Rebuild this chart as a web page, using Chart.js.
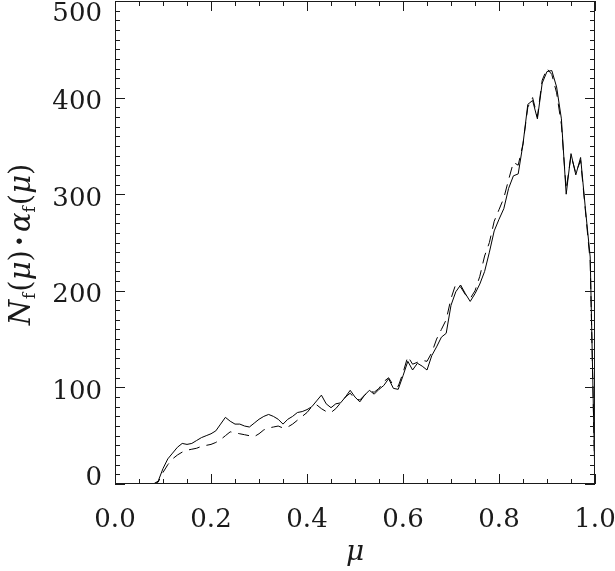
<!DOCTYPE html>
<html>
<head>
<meta charset="utf-8">
<script src="https://cdn.jsdelivr.net/npm/chart.js@4"></script>
<style>
html,body{margin:0;padding:0;background:#fff;}
#wrap{width:615px;height:571px;position:relative;}
</style>
</head>
<body>
<div id="wrap"><canvas id="c" width="615" height="571"></canvas></div>
<script>
// ---- data ----
const mu = [0.00,0.01,0.02,0.03,0.04,0.05,0.06,0.07,0.08,0.09,
  0.10,0.11,0.12,0.13,0.14,0.15,0.16,0.17,0.18,0.19,
  0.20,0.21,0.22,0.23,0.24,0.25,0.26,0.27,0.28,0.29,
  0.30,0.31,0.32,0.33,0.34,0.35,0.36,0.37,0.38,0.39,
  0.40,0.41,0.42,0.43,0.44,0.45,0.46,0.47,0.48,0.49,
  0.50,0.51,0.52,0.53,0.54,0.55,0.56,0.57,0.58,0.59,
  0.60,0.61,0.62,0.63,0.64,0.65,0.66,0.67,0.68,0.69,
  0.70,0.71,0.72,0.73,0.74,0.75,0.76,0.77,0.78,0.79,
  0.80,0.81,0.82,0.83,0.84,0.85,0.86,0.87,0.88,0.89,
  0.90,0.91,0.92,0.93,0.94,0.95,0.96,0.97,0.98,0.99,1.00];
const solidValues = [0,0,0,0,0,0,0,0,0,3,
  16,26,32,38,42,41,42,45,48,50,
  52,55,62,69,65,62,62,60,59,63,
  67,70,72,70,67,62,67,70,74,75,
  77,80,86,92,83,79,83,84,90,97,
  90,85,92,97,93,98,102,109,99,98,
  112,127,118,125,122,118,133,142,152,156,
  185,199,206,197,189,197,207,220,240,262,
  274,285,306,319,321,352,393,397,378,415,
  427,428,411,378,300,342,320,338,285,235,0];
const dashedValues = [0,0,0,0,0,0,0,0,0,2,
  12,20,26,30,33,35,36,37,39,40,
  41,43,46,50,54,53,52,51,50,49,
  52,56,58,59,60,58,59,62,66,70,
  74,80,82,78,75,74,78,84,90,94,
  88,87,92,96,95,99,106,110,102,101,
  115,132,124,126,128,127,136,150,160,170,
  192,207,204,196,192,200,215,236,250,272,
  284,296,315,333,330,352,390,400,380,418,
  430,424,405,372,305,340,322,335,283,230,0];
const xTickValues = [0, 0.2, 0.4, 0.6, 0.8, 1.0];
const xTickLabels = ['0.0', '0.2', '0.4', '0.6', '0.8', '1.0'];
const yTickValues = [0, 100, 200, 300, 400, 500];
const yTickLabels = ['0', '100', '200', '300', '400', '500'];
const xTitle = 'μ';

// ---- styling ----
const INK = '#1a1a1a';
const LABEL_FONT = '26px "DejaVu Serif"';

function drawRich(ctx, segs, cx, baselineY) {
  let total = 0;
  segs.forEach(s => { ctx.font = s.f; s.w = ctx.measureText(s.t).width; total += s.w + (s.gap || 0); });
  let x = cx - total / 2;
  segs.forEach(s => {
    ctx.font = s.f;
    ctx.fillText(s.t, x, baselineY + (s.dy || 0));
    x += s.w + (s.gap || 0);
  });
}

const framePlugin = {
  id: 'frame',
  afterDatasetsDraw(chart) {
    const ctx = chart.ctx;
    const a = chart.chartArea;
    const xs = chart.scales.x, ys = chart.scales.y;
    ctx.save();
    ctx.strokeStyle = INK;
    ctx.lineWidth = 1;
    // frame
    ctx.strokeRect(Math.round(a.left) + 0.5, Math.round(a.top) + 0.5,
                   Math.round(a.right - a.left) - 1, Math.round(a.bottom - a.top) - 1);
    ctx.beginPath();
    // x ticks (minor every 0.05, major every 0.2)
    for (let i = 0; i <= 20; i++) {
      const v = i * 0.05;
      const px = Math.round(xs.getPixelForValue(v)) + 0.5;
      const len = (i % 4 === 0) ? 10 : 5;
      ctx.moveTo(px, a.bottom); ctx.lineTo(px, a.bottom - len);
      ctx.moveTo(px, a.top); ctx.lineTo(px, a.top + len);
    }
    // y ticks (minor every 10, major every 100)
    for (let i = 0; i <= 50; i++) {
      const v = i * 10;
      const py = Math.round(ys.getPixelForValue(v)) + 0.5;
      const len = (i % 10 === 0) ? 10 : 5;
      ctx.moveTo(a.left, py); ctx.lineTo(a.left + len, py);
      ctx.moveTo(a.right, py); ctx.lineTo(a.right - len, py);
    }
    ctx.stroke();

    ctx.fillStyle = INK;
    ctx.font = LABEL_FONT;
    // y tick labels
    ctx.textAlign = 'right';
    ctx.textBaseline = 'alphabetic';
    yTickValues.forEach((v, i) => {
      let cy = ys.getPixelForValue(v) + 2;
      cy = Math.max(a.top + 10, Math.min(a.bottom - 9, cy));
      ctx.fillText(yTickLabels[i], a.left - 13, cy + 9.5);
    });
    // x tick labels
    ctx.textAlign = 'center';
    xTickValues.forEach((v, i) => {
      ctx.fillText(xTickLabels[i], xs.getPixelForValue(v), 527);
    });
    // x title
    ctx.font = 'italic 28px "DejaVu Serif"';
    ctx.fillText(xTitle, (a.left + a.right) / 2, 560);
    // y title (rotated)
    ctx.translate(30, (a.top + a.bottom) / 2 + 2);
    ctx.rotate(-Math.PI / 2);
    ctx.textAlign = 'left';
    const it = 'italic 29px "DejaVu Serif"', up = '29px "DejaVu Serif"', sub = '17px "DejaVu Serif"';
    drawRich(ctx, [
      {t: 'N', f: it, gap: 1},
      {t: 'f', f: sub, dy: 5, gap: 1},
      {t: '(', f: up},
      {t: 'μ', f: it},
      {t: ')', f: up, gap: 4},
      {t: '·', f: 'bold 29px "DejaVu Serif"', gap: 4},
      {t: 'α', f: it},
      {t: 'f', f: sub, dy: 5, gap: 1},
      {t: '(', f: up},
      {t: 'μ', f: it},
      {t: ')', f: up}
    ], 0, 0);
    ctx.restore();
  }
};

new Chart(document.getElementById('c'), {
  type: 'line',
  data: {
    datasets: [
      {
        label: 'solid',
        data: mu.map((x, i) => ({x: x, y: solidValues[i]})),
        borderColor: '#000',
        borderWidth: 1,
        pointRadius: 0,
        tension: 0,
        fill: false
      },
      {
        label: 'dashed',
        data: mu.map((x, i) => ({x: x, y: dashedValues[i]})),
        borderColor: '#000',
        borderWidth: 1,
        borderDash: [11, 7],
        pointRadius: 0,
        tension: 0,
        fill: false
      }
    ]
  },
  options: {
    responsive: false,
    animation: false,
    devicePixelRatio: 1,
    layout: {padding: {left: 115, right: 20, top: 1, bottom: 87}},
    plugins: {legend: {display: false}, tooltip: {enabled: false}},
    scales: {
      x: {type: 'linear', min: 0, max: 1, display: false},
      y: {type: 'linear', min: 0, max: 500, display: false}
    }
  },
  plugins: [framePlugin]
});
</script>
</body>
</html>
